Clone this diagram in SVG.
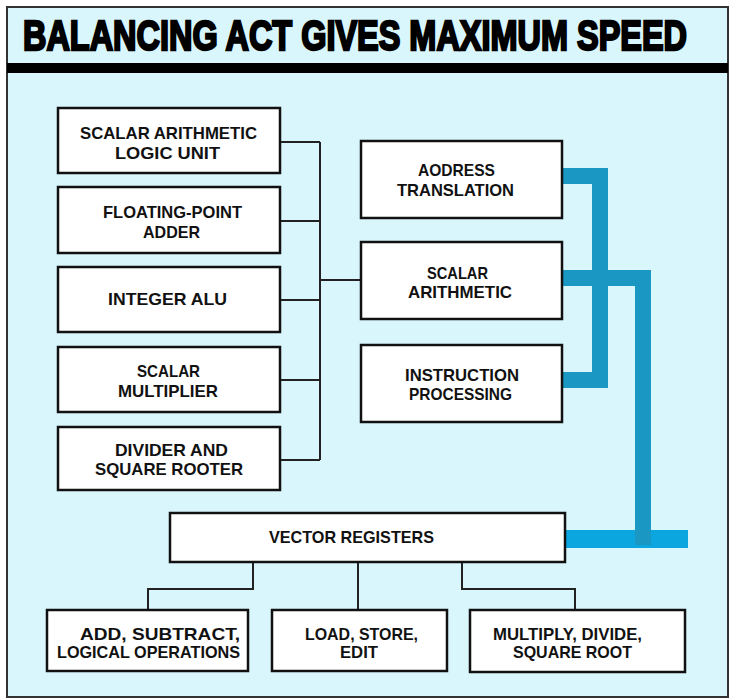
<svg xmlns="http://www.w3.org/2000/svg" width="732" height="700" viewBox="0 0 732 700">
<style>
.bg{fill:#D8F6FC}
.box{fill:#ffffff;stroke:#111;stroke-width:2.5}
.lbl{font-family:"Liberation Sans","Arial",sans-serif;font-weight:bold;font-size:17px;fill:#111;text-anchor:middle}
.thin{fill:none;stroke:#222;stroke-width:2}
.blue{fill:none;stroke:#1B97C4;stroke-width:16;stroke-linejoin:miter;stroke-linecap:butt}
.title{font-family:"Liberation Sans","DejaVu Sans",sans-serif;font-weight:900;font-size:42px;fill:#000;stroke:#000;stroke-width:2.4}
</style>
<rect x="0" y="0" width="732" height="700" fill="#ffffff"/>
<rect class="bg" x="7" y="7" width="721" height="690" stroke="#333" stroke-width="2"/>
<rect x="7" y="63" width="721" height="10" fill="#000"/>
<text class="title" x="23" y="50" textLength="664" lengthAdjust="spacingAndGlyphs">BALANCING ACT GIVES MAXIMUM SPEED</text>

<g id="connectors">
<path class="thin" d="M280,142 H320 M280,221 H320 M280,300 H320 M280,380 H320 M280,460 H320 M320,142 V460 M320,280 H361"/>
<path class="thin" d="M253,562 V589 H148 V610 M358,562 V610 M462,562 V589 H575 V610"/>
<rect x="565" y="530" width="123" height="18" fill="#0BA6E0"/>
<path class="blue" d="M562,176 H600 V380 H562"/>
<path class="blue" d="M562,278 H643 V545"/>
</g>

<g id="n-salu"><rect class="box" x="58" y="108" width="222" height="65"/><text class="lbl" x="168.5" y="139" textLength="177" lengthAdjust="spacingAndGlyphs">SCALAR ARITHMETIC</text><text class="lbl" x="167.5" y="159" textLength="105" lengthAdjust="spacingAndGlyphs">LOGIC UNIT</text></g>
<g id="n-fpa"><rect class="box" x="58" y="187" width="222" height="66"/><text class="lbl" x="172.5" y="218" textLength="139" lengthAdjust="spacingAndGlyphs">FLOATING-POINT</text><text class="lbl" x="171.5" y="238" textLength="57" lengthAdjust="spacingAndGlyphs">ADDER</text></g>
<g id="n-ialu"><rect class="box" x="58" y="267" width="222" height="65"/><text class="lbl" x="167.5" y="305" textLength="119" lengthAdjust="spacingAndGlyphs">INTEGER ALU</text></g>
<g id="n-smul"><rect class="box" x="58" y="347" width="222" height="65"/><text class="lbl" x="168.5" y="377" textLength="63" lengthAdjust="spacingAndGlyphs">SCALAR</text><text class="lbl" x="168" y="397" textLength="100" lengthAdjust="spacingAndGlyphs">MULTIPLIER</text></g>
<g id="n-div"><rect class="box" x="58" y="427" width="222" height="63"/><text class="lbl" x="171.5" y="456" textLength="113" lengthAdjust="spacingAndGlyphs">DIVIDER AND</text><text class="lbl" x="169" y="475" textLength="148" lengthAdjust="spacingAndGlyphs">SQUARE ROOTER</text></g>

<g id="n-addr"><rect class="box" x="361" y="141" width="201" height="77"/><text class="lbl" x="456.5" y="176" textLength="77" lengthAdjust="spacingAndGlyphs">AODRESS</text><text class="lbl" x="455.5" y="196" textLength="117" lengthAdjust="spacingAndGlyphs">TRANSLATION</text></g>
<g id="n-sar"><rect class="box" x="361" y="242" width="201" height="77"/><text class="lbl" x="457.5" y="279" textLength="61" lengthAdjust="spacingAndGlyphs">SCALAR</text><text class="lbl" x="460" y="298" textLength="104" lengthAdjust="spacingAndGlyphs">ARITHMETIC</text></g>
<g id="n-ins"><rect class="box" x="361" y="345" width="201" height="77"/><text class="lbl" x="462" y="381" textLength="114" lengthAdjust="spacingAndGlyphs">INSTRUCTION</text><text class="lbl" x="460.5" y="400" textLength="103" lengthAdjust="spacingAndGlyphs">PROCESSING</text></g>

<g id="n-vreg"><rect class="box" x="170" y="513" width="395" height="49"/><text class="lbl" x="351.5" y="543" textLength="165" lengthAdjust="spacingAndGlyphs">VECTOR REGISTERS</text></g>

<g id="n-add"><rect class="box" x="47" y="610" width="201" height="61"/><text class="lbl" x="160" y="640" textLength="160" lengthAdjust="spacingAndGlyphs">ADD, SUBTRACT,</text><text class="lbl" x="148.5" y="658" textLength="183" lengthAdjust="spacingAndGlyphs">LOGICAL OPERATIONS</text></g>
<g id="n-load"><rect class="box" x="272" y="610" width="175" height="61"/><text class="lbl" x="361.5" y="640" textLength="113" lengthAdjust="spacingAndGlyphs">LOAD, STORE,</text><text class="lbl" x="359" y="658" textLength="38" lengthAdjust="spacingAndGlyphs">EDIT</text></g>
<g id="n-mul"><rect class="box" x="470" y="610" width="215" height="62"/><text class="lbl" x="567.5" y="640" textLength="149" lengthAdjust="spacingAndGlyphs">MULTIPLY, DIVIDE,</text><text class="lbl" x="572.5" y="658" textLength="119" lengthAdjust="spacingAndGlyphs">SQUARE ROOT</text></g>
</svg>
